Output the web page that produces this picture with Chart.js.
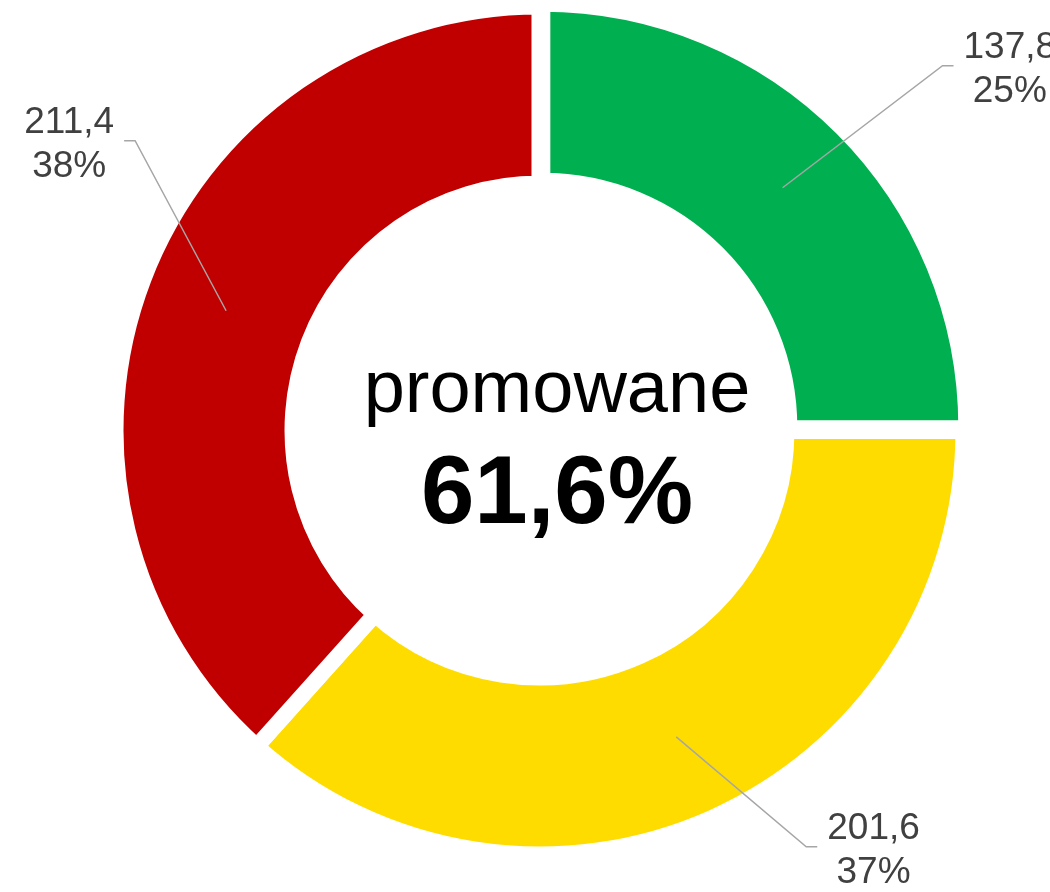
<!DOCTYPE html>
<html>
<head>
<meta charset="utf-8">
<title>promowane</title>
<script src="https://cdn.jsdelivr.net/npm/chart.js@4.4.1/dist/chart.umd.min.js"></script>
<style>
  html, body { margin: 0; padding: 0; background: #fff; }
  #wrap { width: 1050px; height: 892px; overflow: hidden; }
</style>
</head>
<body>
<div id="wrap"><canvas id="promoChart" width="1050" height="892"></canvas></div>
<script>
// data
const categories = ["zielone", "żółte", "czerwone"];
const values = [137.8, 201.6, 211.4];
const sliceColors = ["#00B050", "#FFDC00", "#C00000"];
const promotedIndexes = [0, 1];
const centerTitle = "promowane";

// where the leader line bends, relative to the middle of each slice
const labelElbow = [[160, -122], [130, 110], [-91, -170]];

function fmt(v) {
  return v.toFixed(1).replace(".", ",");
}

document.addEventListener("DOMContentLoaded", function () {
  const total = values.reduce(function (a, b) { return a + b; }, 0);
  const promoted = promotedIndexes.reduce(function (s, i) { return s + values[i]; }, 0);

  // leader lines + value labels
  const sliceLabels = {
    id: "sliceLabels",
    afterDatasetsDraw(chart) {
      const ctx = chart.ctx;
      const meta = chart.getDatasetMeta(0);
      ctx.save();
      meta.data.forEach(function (arc, i) {
        const p = arc.tooltipPosition();
        const ex = p.x + labelElbow[i][0];
        const ey = p.y + labelElbow[i][1];
        const dir = labelElbow[i][0] > 0 ? 1 : -1;
        const endX = ex + dir * 11;

        ctx.strokeStyle = "#A6A6A6";
        ctx.lineWidth = 1.5;
        ctx.beginPath();
        ctx.moveTo(p.x, p.y);
        ctx.lineTo(ex, ey);
        ctx.lineTo(endX, ey);
        ctx.stroke();

        const line1 = fmt(values[i]);
        const line2 = Math.round(values[i] / total * 100) + "%";
        ctx.font = "37px 'Liberation Sans', Arial, sans-serif";
        ctx.fillStyle = "#404040";
        ctx.textAlign = "center";
        ctx.textBaseline = "alphabetic";
        const w = Math.max(ctx.measureText(line1).width, ctx.measureText(line2).width);
        const tx = endX + dir * (10 + w / 2);
        ctx.fillText(line1, tx, ey - 8);
        ctx.fillText(line2, tx, ey + 36);
      });
      ctx.restore();
    },
  };

  // text in the hole
  const centerText = {
    id: "centerText",
    afterDraw(chart) {
      const arc = chart.getDatasetMeta(0).data[0];
      const ctx = chart.ctx;
      const cx = arc.x + 17.5;
      ctx.save();
      ctx.fillStyle = "#000";
      ctx.textAlign = "center";
      ctx.textBaseline = "alphabetic";
      ctx.font = "74px 'Liberation Sans', Arial, sans-serif";
      ctx.fillText(centerTitle, cx, arc.y - 18.5);
      ctx.font = "bold 96px 'Liberation Sans', Arial, sans-serif";
      ctx.fillText((promoted / total * 100).toFixed(1).replace(".", ",") + "%", cx, arc.y + 92.5);
      ctx.restore();
    },
  };

  const ctx = document.getElementById("promoChart").getContext("2d");
  new Chart(ctx, {
    type: "doughnut",
    data: {
      labels: categories,
      datasets: [
        {
          data: values,
          backgroundColor: sliceColors,
          borderColor: "#FFFFFF",
          borderWidth: 16,
          borderJoinStyle: "miter",
          offset: [16, 0, 0],
        },
      ],
    },
    options: {
      responsive: false,
      animation: false,
      radius: 424,
      cutout: "58.25%",
      layout: { padding: { left: 29, right: 0, top: 0, bottom: 31 } },
      plugins: {
        legend: { display: false },
        tooltip: { enabled: false },
      },
      events: [],
    },
    plugins: [sliceLabels, centerText],
  });
});
</script>
</body>
</html>
